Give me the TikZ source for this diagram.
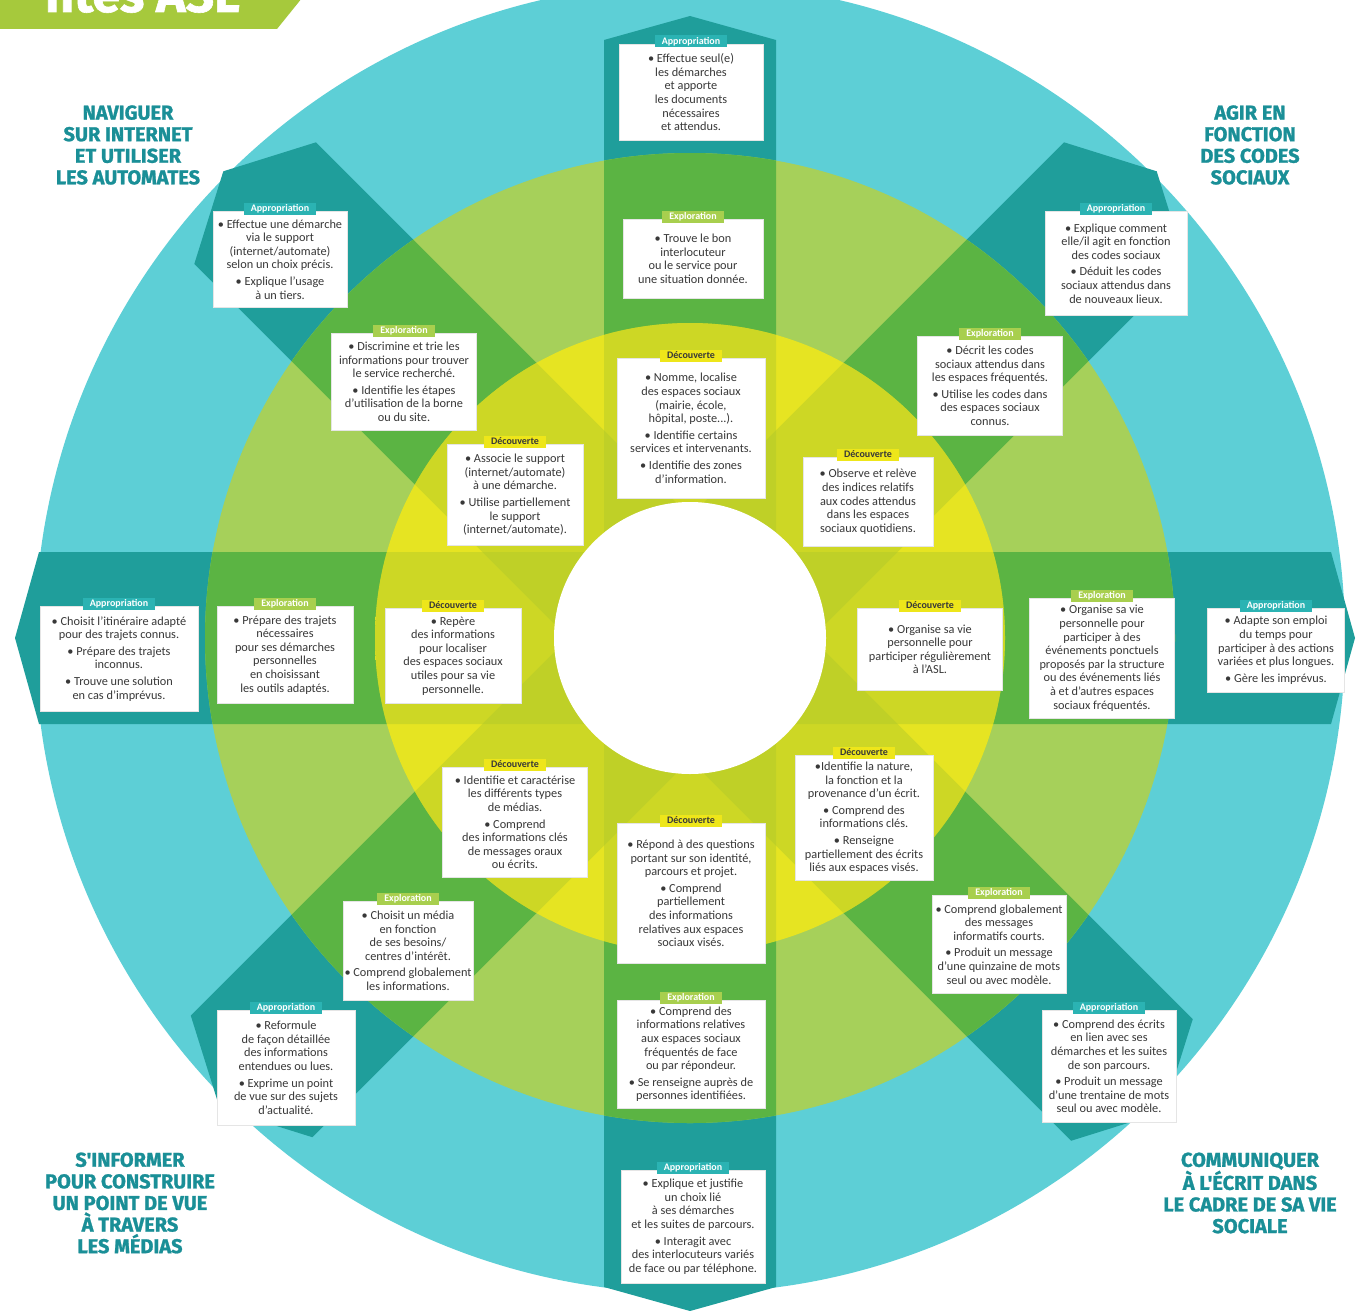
\documentclass[tikz,border=0pt]{standalone}
\usepackage{fontspec}
\setmainfont{Carlito}
\newfontfamily\headfont{Fira Sans}[BoldFeatures={FakeBold=1.2}]
\definecolor{cyanbg}{HTML}{5DCFD6}
\definecolor{armteal}{HTML}{1F9E9B}
\definecolor{greenbg}{HTML}{A6D05A}
\definecolor{armgreen}{HTML}{5BB443}
\definecolor{yelcore}{HTML}{E6E422}
\definecolor{yeledge}{HTML}{CCDC3C}
\definecolor{armyel}{HTML}{AFC82A}
\definecolor{cA}{HTML}{2BB3B3}
\definecolor{cE}{HTML}{A8CF4E}
\definecolor{cD}{HTML}{EEE61A}
\definecolor{headc}{HTML}{1A8F97}
\definecolor{bannerc}{HTML}{A6C93C}
\definecolor{txt}{HTML}{383838}
\pgfdeclareradialshading{ringshade}{\pgfpoint{0bp}{0bp}}{color(0bp)=(yelcore); color(28bp)=(yelcore); color(44bp)=(yeledge); color(50bp)=(yeledge)}
\tikzset{
  card/.style={fill=white, draw=white!80!gray, line width=0.6pt, align=center,
    font=\fontsize{12.3}{13.6}\selectfont, text=txt, inner sep=1pt, anchor=north},
  tagbase/.style={font=\fontsize{10}{10}\selectfont\bfseries, inner xsep=7pt, inner ysep=1pt, minimum height=12pt},
  tagA/.style={tagbase, fill=cA, text=white},
  tagE/.style={tagbase, fill=cE, text=white},
  tagD/.style={tagbase, fill=cD, text=txt},
  head/.style={align=center, text=headc, font=\headfont\bfseries\fontsize{20}{21.6}\selectfont},
}
% arm: angle, length, tip
\newcommand\armfill[4]{%
  \begin{scope}[shift={(690,638)},rotate=#1]
    \fill[#4] (0,-86) -- (#2,-86) -- ({#2+#3},0) -- (#2,86) -- (0,86) -- cycle;
  \end{scope}}
\newcommand\allarms[1]{%
  \armfill{90}{598}{24}{#1}
  \armfill{270}{649}{24}{#1}
  \armfill{180}{651}{24}{#1}
  \armfill{0}{641}{24}{#1}
  \armfill{45}{615}{45}{#1}
  \armfill{135}{615}{45}{#1}
  \armfill{225}{620}{45}{#1}
  \armfill{315}{625}{45}{#1}}
% card: name, xcenter, ytop, ybottom, width, kind, label, text
\newcommand\card[8]{%
  \node[card, minimum width=#5, minimum height={#4-#3}] (#1) at (#2,#3) {#8};
  \node[tag#6, yshift=2.5pt] (#1t) at (#1.north) {#7};}
\begin{document}
\begin{tikzpicture}[x=1pt,y=-1pt]
\useasboundingbox (0,0) rectangle (1357,1311);
\fill[white] (0,0) rectangle (1357,1311);
% rings and arms
\fill[cyanbg] (690,638) circle (655);
\allarms{armteal}
\fill[greenbg] (690,638) circle (485);
\begin{scope}
  \clip (690,638) circle (485);
  \allarms{armgreen}
\end{scope}
\shade[shading=ringshade] (690,638) circle (315);
\begin{scope}
  \clip (690,638) circle (315);
  \allarms{armyel, fill opacity=0.45}
\end{scope}
\fill[white] (690,638) circle (136);
% banner
\fill[bannerc] (0,-2) -- (302,-2) -- (277,29) -- (0,29) -- cycle;
\node[anchor=base east, text=white, font=\headfont\bfseries\fontsize{50}{50}\selectfont, inner sep=0pt] (title) at (240,12) {ntes ASL};
% headings
\node[head] (hNW) at (128,145) {NAVIGUER\\SUR INTERNET\\ET UTILISER\\LES AUTOMATES};
\node[head] (hNE) at (1250,145) {AGIR EN\\FONCTION\\DES CODES\\SOCIAUX};
\node[head] (hSW) at (130,1203) {S'INFORMER\\POUR CONSTRUIRE\\UN POINT DE VUE\\À TRAVERS\\LES MÉDIAS};
\node[head] (hSE) at (1250,1193) {COMMUNIQUER\\À L'ÉCRIT DANS\\LE CADRE DE SA VIE\\SOCIALE};
% top arm
\card{tA}{691}{44}{140}{144}{A}{Appropriation}{• Effectue seul(e)\\ les démarches\\ et apporte\\ les documents\\ nécessaires\\ et attendus.}
\card{tE}{693}{219}{298}{140}{E}{Exploration}{• Trouve le bon\\ interlocuteur\\ ou le service pour\\ une situation donnée.}
\card{tD}{691}{358}{498}{148}{D}{Découverte}{• Nomme, localise\\ des espaces sociaux\\ (mairie, école,\\ hôpital, poste...).\\[3pt] • Identifie certains\\ services et intervenants.\\[3pt] • Identifie des zones\\ d'information.}
% NW arm
\card{nwA}{280}{211}{307}{134}{A}{Appropriation}{• Effectue une démarche\\ via le support\\ (internet/automate)\\ selon un choix précis.\\[3pt] • Explique l'usage\\ à un tiers.}
\card{nwE}{404}{333}{430}{145}{E}{Exploration}{• Discrimine et trie les\\ informations pour trouver\\ le service recherché.\\[3pt] • Identifie les étapes\\ d'utilisation de la borne\\ ou du site.}
\card{nwD}{515}{444}{545}{136}{D}{Découverte}{• Associe le support\\ (internet/automate)\\ à une démarche.\\[3pt] • Utilise partiellement\\ le support\\ (internet/automate).}
% NE arm
\card{neA}{1116}{211}{315}{142}{A}{Appropriation}{• Explique comment\\ elle/il agit en fonction\\ des codes sociaux\\[3pt] • Déduit les codes\\ sociaux attendus dans\\ de nouveaux lieux.}
\card{neE}{990}{336}{435}{145}{E}{Exploration}{• Décrit les codes\\ sociaux attendus dans\\ les espaces fréquentés.\\[3pt] • Utilise les codes dans\\ des espaces sociaux\\ connus.}
\card{neD}{868}{457}{546}{130}{D}{Découverte}{• Observe et relève\\ des indices relatifs\\ aux codes attendus\\ dans les espaces\\ sociaux quotidiens.}
% W arm
\card{wA}{119}{606}{711}{158}{A}{Appropriation}{• Choisit l'itinéraire adapté\\ pour des trajets connus.\\[3pt] • Prépare des trajets\\ inconnus.\\[3pt] • Trouve une solution\\ en cas d'imprévus.}
\card{wE}{285}{606}{703}{136}{E}{Exploration}{• Prépare des trajets\\ nécessaires\\ pour ses démarches\\ personnelles\\ en choisissant\\ les outils adaptés.}
\card{wD}{453}{608}{703}{136}{D}{Découverte}{• Repère\\ des informations\\ pour localiser\\ des espaces sociaux\\ utiles pour sa vie\\ personnelle.}
% E arm
\card{eD}{930}{608}{690}{145}{D}{Découverte}{• Organise sa vie\\ personnelle pour\\ participer régulièrement\\ à l'ASL.}
\card{eE}{1102}{598}{718}{145}{E}{Exploration}{• Organise sa vie\\ personnelle pour\\ participer à des\\ événements ponctuels\\ proposés par la structure\\ ou des événements liés\\ à et d'autres espaces\\ sociaux fréquentés.}
\card{eA}{1276}{608}{692}{137}{A}{Appropriation}{• Adapte son emploi\\ du temps pour\\ participer à des actions\\ variées et plus longues.\\[3pt] • Gère les imprévus.}
% SW arm
\card{swD}{515}{767}{877}{145}{D}{Découverte}{• Identifie et caractérise\\ les différents types\\ de médias.\\[3pt] • Comprend\\ des informations clés\\ de messages oraux\\ ou écrits.}
\card{swE}{408}{901}{1000}{130}{E}{Exploration}{• Choisit un média\\ en fonction\\ de ses besoins/\\ centres d'intérêt.\\[3pt] • Comprend globalement\\ les informations.}
\card{swA}{286}{1010}{1125}{138}{A}{Appropriation}{• Reformule\\ de façon détaillée\\ des informations\\ entendues ou lues.\\[3pt] • Exprime un point\\ de vue sur des sujets\\ d'actualité.}
% S arm
\card{sD}{691}{823}{963}{148}{D}{Découverte}{• Répond à des questions\\ portant sur son identité,\\ parcours et projet.\\[3pt] • Comprend\\ partiellement\\ des informations\\ relatives aux espaces\\ sociaux visés.}
\card{sE}{691}{1000}{1108}{148}{E}{Exploration}{• Comprend des\\ informations relatives\\ aux espaces sociaux\\ fréquentés de face\\ ou par répondeur.\\[3pt] • Se renseigne auprès de\\ personnes identifiées.}
\card{sA}{693}{1170}{1283}{144}{A}{Appropriation}{• Explique et justifie\\ un choix lié\\ à ses démarches\\ et les suites de parcours.\\[3pt] • Interagit avec\\ des interlocuteurs variés\\ de face ou par téléphone.}
% SE arm
\card{seD}{864}{755}{880}{138}{D}{Découverte}{•Identifie la nature,\\ la fonction et la\\ provenance d'un écrit.\\[3pt] • Comprend des\\ informations clés.\\[3pt] • Renseigne\\ partiellement des écrits\\ liés aux espaces visés.}
\card{seE}{999}{895}{993}{134}{E}{Exploration}{• Comprend globalement\\ des messages\\ informatifs courts.\\[3pt] • Produit un message\\ d'une quinzaine de mots\\ seul ou avec modèle.}
\card{seA}{1109}{1010}{1122}{134}{A}{Appropriation}{• Comprend des écrits\\ en lien avec ses\\ démarches et les suites\\ de son parcours.\\[3pt] • Produit un message\\ d'une trentaine de mots\\ seul ou avec modèle.}
\end{tikzpicture}
\end{document}
